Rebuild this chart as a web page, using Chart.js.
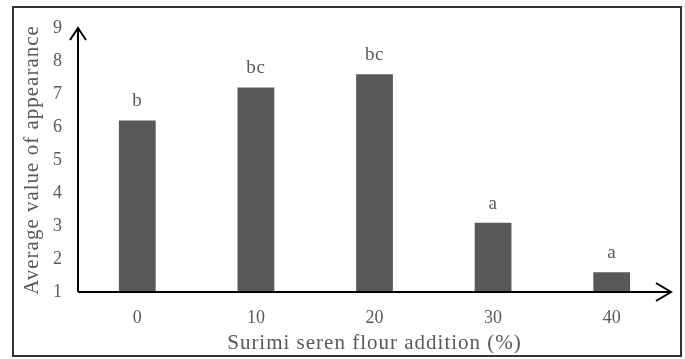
<!DOCTYPE html>
<html><head><meta charset="utf-8">
<script src="https://cdn.jsdelivr.net/npm/chart.js@4.4.1/dist/chart.umd.min.js"></script>
<style>html,body{margin:0;padding:0;background:#fff}#wrap{width:685px;height:359px;position:relative}</style>
</head><body><div id="wrap"><canvas id="c" width="685" height="359"></canvas></div>
<script>
const categories = ["0", "10", "20", "30", "40"];
const values = [6.2, 7.2, 7.6, 3.1, 1.6];
const letters = ["b", "bc", "bc", "a", "a"];
const yTicks = [1, 2, 3, 4, 5, 6, 7, 8, 9];
const xTitle = "Surimi seren flour addition (%)";
const yTitle = "Average value of appearance";

const FONT = "'Liberation Serif', 'Times New Roman', serif";
const TXT = '#595959';

const decor = {
  id: 'decor',
  beforeDraw(chart) {
    const ctx = chart.ctx;
    Object.values(chart.scales).forEach(s => {
      if (!s._wrappedTitle) {
        const orig = s.drawTitle.bind(s);
        s.drawTitle = function () {
          const c = this.ctx;
          const prev = c.letterSpacing;
          c.letterSpacing = '1px';
          orig();
          c.letterSpacing = prev || '0px';
        };
        s._wrappedTitle = true;
      }
    });
    ctx.save();
    ctx.fillStyle = '#fff';
    ctx.fillRect(0, 0, chart.width, chart.height);
    ctx.strokeStyle = '#333';
    ctx.lineWidth = 2;
    ctx.strokeRect(13, 7, 668, 349);
    ctx.restore();
  },
  afterDatasetsDraw(chart) {
    const ctx = chart.ctx;
    const ca = chart.chartArea;
    const meta = chart.getDatasetMeta(0);
    ctx.save();
    ctx.strokeStyle = '#000';
    ctx.lineWidth = 2;
    ctx.beginPath();
    ctx.moveTo(ca.left, ca.bottom);
    ctx.lineTo(ca.left, ca.top);
    ctx.moveTo(ca.left, ca.bottom);
    ctx.lineTo(ca.right, ca.bottom);
    ctx.stroke();
    ctx.beginPath();
    ctx.moveTo(ca.left - 8, ca.top + 12);
    ctx.lineTo(ca.left, ca.top);
    ctx.lineTo(ca.left + 8, ca.top + 12);
    ctx.moveTo(ca.right - 15, ca.bottom - 9);
    ctx.lineTo(ca.right, ca.bottom);
    ctx.lineTo(ca.right - 15, ca.bottom + 9);
    ctx.stroke();
    ctx.fillStyle = TXT;
    ctx.font = "19px " + FONT;
    ctx.letterSpacing = '0.6px';
    ctx.textAlign = 'center';
    ctx.textBaseline = 'alphabetic';
    meta.data.forEach((bar, i) => {
      ctx.fillText(letters[i], bar.x, bar.y - 14);
    });
    ctx.restore();
  }
};

new Chart(document.getElementById('c'), {
  type: 'bar',
  data: {
    labels: categories,
    datasets: [{
      data: values,
      backgroundColor: '#595959',
      borderWidth: 0,
      barPercentage: 0.31,
      categoryPercentage: 1.0
    }]
  },
  options: {
    responsive: false,
    animation: false,
    devicePixelRatio: 1,
    layout: { padding: { left: 15, right: 14, top: 28, bottom: 3 } },
    plugins: { legend: { display: false }, tooltip: { enabled: false } },
    scales: {
      x: {
        grid: { display: false, drawTicks: false },
        border: { display: false },
        ticks: { color: TXT, font: { family: FONT, size: 18 }, padding: 15 },
        title: { display: true, text: xTitle, color: TXT, font: { family: FONT, size: 21, lineHeight: 1 }, padding: { top: 0, bottom: 2 } },
        afterFit(s) { s.height = 64; }
      },
      y: {
        min: 1, max: 9,
        afterBuildTicks(s) { s.ticks = yTicks.map(v => ({ value: v })); },
        grid: { display: false, drawTicks: false },
        border: { display: false },
        ticks: { color: TXT, font: { family: FONT, size: 18 }, padding: 16 },
        title: { display: true, text: yTitle, color: TXT, font: { family: FONT, size: 21, lineHeight: 1 }, padding: { top: 7, bottom: 0 } },
        afterFit(s) { s.width = 63; }
      }
    }
  },
  plugins: [decor]
});
</script></body></html>
